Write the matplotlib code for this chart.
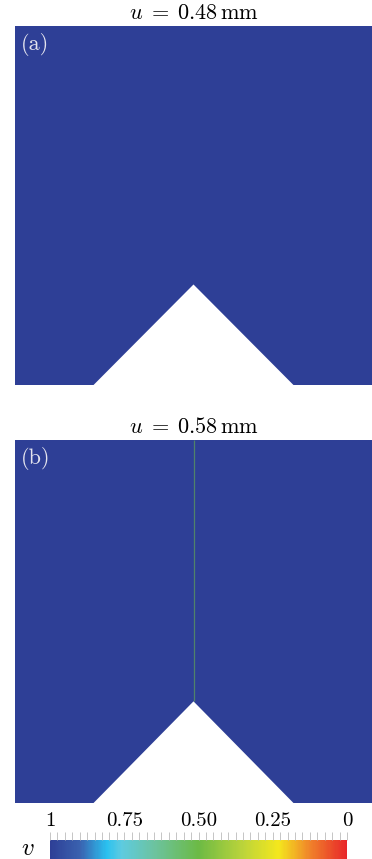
import numpy as np
import matplotlib
matplotlib.use("Agg")
import matplotlib.pyplot as plt
from matplotlib.colors import LinearSegmentedColormap, Normalize
from matplotlib.cm import ScalarMappable
from matplotlib.ticker import MultipleLocator

plt.rcParams['mathtext.fontset'] = 'cm'
plt.rcParams['font.family'] = ['cmr10', 'DejaVu Serif']
plt.rcParams['axes.unicode_minus'] = False

# displacement per snapshot
panel_labels = ['(a)', '(b)']
displacements = [0.48, 0.58]

# notch geometry (domain is a unit square)
notch_x = [0.22, 0.50, 0.78]
notch_y = [0.0, 0.28, 0.0]

# phase field: intact (v=1) everywhere, crack (v~0.5 in display) along x=0.5 in (b)
field_value = [1.0, 1.0]
crack_x = [None, 0.5]
crack_value = 0.5

# colorbar
cbar_ticks = [1.0, 0.75, 0.50, 0.25, 0.0]
cbar_ticklabels = ['1', '0.75', '0.50', '0.25', '0']

# rainbow-like map, v=0 red, v=1 dark blue
cmap_nodes = [0.0, 0.12, 0.23, 0.35, 0.50, 0.65, 0.76, 0.81, 0.90, 1.0]
cmap_colors = ['#e8262a', '#f0802a', '#f4e71d', '#bcd43a', '#6cba45',
               '#6cc3a0', '#5ecbe0', '#2ac1f0', '#3a62b0', '#2e3f96']
cmap = LinearSegmentedColormap.from_list('pf', list(zip(cmap_nodes, cmap_colors)))
norm = Normalize(0, 1)

W, H = 372, 859
fig = plt.figure(figsize=(W / 100, H / 100), dpi=100)

# panel boxes in pixels: (left, top, right, bottom)
boxes = [(15, 26, 372, 385), (15, 440, 372, 803)]

for i, (l, t, r, b) in enumerate(boxes):
    ax = fig.add_axes([l / W, 1 - b / H, (r - l) / W, (b - t) / H])
    ax.set_xlim(0, 1)
    ax.set_ylim(0, 1)
    ax.axis('off')

    # domain outline minus notch
    poly_x = [0, notch_x[0], notch_x[1], notch_x[2], 1, 1, 0]
    poly_y = [0, notch_y[0], notch_y[1], notch_y[2], 0, 1, 1]
    ax.fill(poly_x, poly_y, color=cmap(norm(field_value[i])), lw=0)

    if crack_x[i] is not None:
        ax.plot([crack_x[i], crack_x[i]], [notch_y[1], 1],
                color=cmap(norm(crack_value)), alpha=0.55, lw=0.9,
                solid_capstyle='butt')

    ax.text(0.016, 0.98, panel_labels[i], transform=ax.transAxes,
            ha='left', va='top', color='#e4e4ee', fontsize=16)
    ax.text(0.5, 1.008, r'$u\;=\;%.2f\,\mathrm{mm}$' % displacements[i],
            transform=ax.transAxes, ha='center', va='bottom', fontsize=16)

# colorbar
cax = fig.add_axes([50 / W, 0, (347 - 50) / W, (859 - 840) / H])
sm = ScalarMappable(norm=norm, cmap=cmap)
cb = fig.colorbar(sm, cax=cax, orientation='horizontal')
cb.outline.set_visible(False)
cax.invert_xaxis()
cax.xaxis.set_ticks_position('top')
cax.xaxis.set_label_position('top')
cb.set_ticks(cbar_ticks)
cb.set_ticklabels(cbar_ticklabels)
cax.xaxis.set_minor_locator(MultipleLocator(0.025))
cax.tick_params(axis='x', which='both', direction='out', length=6,
                width=0.6, color='#bbbbbb', labelsize=15, pad=1)
fig.text(28 / W, 1 - 849 / H, r'$v$', ha='center', va='center', fontsize=18)

fig.savefig('out.png', dpi=100)
